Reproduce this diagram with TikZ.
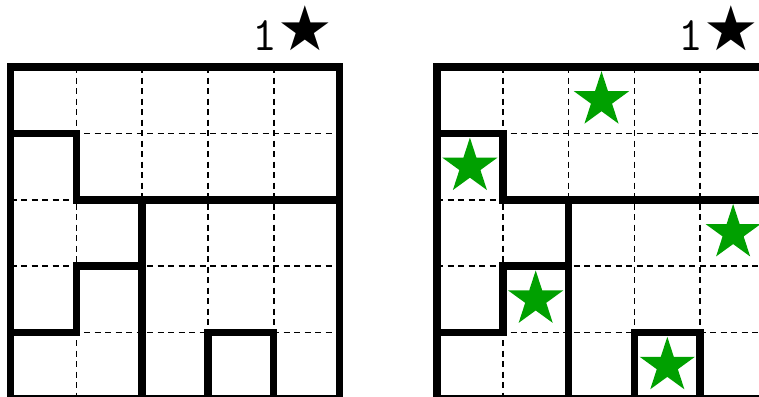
\documentclass[tikz,border=0pt]{standalone}
\usepackage{fontspec}
\newfontfamily\symfnt{DejaVu Sans}
\usetikzlibrary{shapes.geometric}
\definecolor{starGreen}{RGB}{0,160,0}
\newcommand\drawpuzzlegrid{%
  \foreach \i in {1,...,4} {
    \draw[gridline] (\i,0) -- (\i,5);
    \draw[gridline] (0,\i) -- (5,\i);
  }
  \draw[regionline] (0,0) rectangle (5,5);
  \draw[regionline] (0,1) -- (1,1) -- (1,2) -- (5,2);
  \draw[regionline] (2,2) -- (2,5);
  \draw[regionline] (2,3) -- (1,3) -- (1,4) -- (0,4);
  \draw[regionline] (3,5) -- (3,4) -- (4,4) -- (4,5);
}
\begin{document}
\begin{tikzpicture}[x=1pt,y=-1pt,
  regionline/.style={line width=7.5pt, line join=miter},
  gridline/.style={line width=1.6pt, dash pattern=on 6pt off 4.5pt},
  gstar/.style={star, star points=5, star point ratio=2.618, minimum size=58pt, inner sep=0pt, outer sep=0pt, fill=starGreen, draw=none},
  titletext/.style={anchor=base west, inner sep=0pt}]
\useasboundingbox (0,0) rectangle (759,396);
\fill[white] (0,0) rectangle (759,396);
\begin{scope}[shift={(10.5pt,-67pt)}, x=65.8pt, y=-66.4pt]
  \drawpuzzlegrid
\end{scope}
\begin{scope}[shift={(437pt,-67pt)}, x=65.8pt, y=-66.4pt]
  \drawpuzzlegrid
  \node[gstar] (s1) at (2.5,0.5) {};
  \node[gstar] (s2) at (0.5,1.5) {};
  \node[gstar] (s3) at (4.5,2.5) {};
  \node[gstar] (s4) at (1.5,3.5) {};
  \node[gstar] (s5) at (3.5,4.5) {};
\end{scope}
\node[titletext] (tL) at (252,50) {{\ttfamily\fontsize{48}{48}\selectfont 1}\kern1pt{\symfnt\fontsize{62}{62}\selectfont ★}};
\node[titletext] (tR) at (678,50) {{\ttfamily\fontsize{48}{48}\selectfont 1}\kern1pt{\symfnt\fontsize{62}{62}\selectfont ★}};
\end{tikzpicture}
\end{document}
